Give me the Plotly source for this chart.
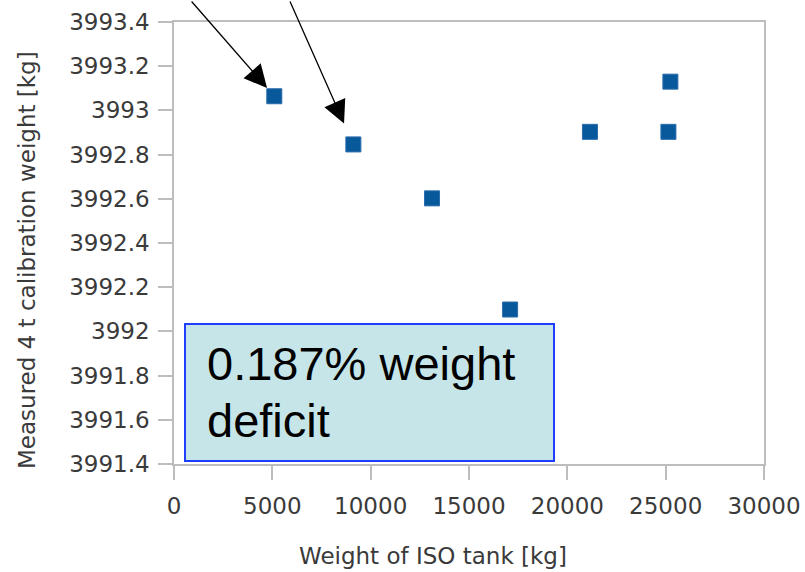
import plotly.graph_objects as go

# Data
tank_weight = [5100, 9120, 13120, 17090, 21150, 25140, 25240]
measured_weight = [3993.064, 3992.846, 3992.602, 3992.099, 3992.903, 3992.903, 3993.130]

x_tick_vals = [0, 5000, 10000, 15000, 20000, 25000, 30000]
x_tick_text = ["0", "5000", "10000", "15000", "20000", "25000", "30000"]
y_tick_vals = [3991.4, 3991.6, 3991.8, 3992.0, 3992.2, 3992.4, 3992.6, 3992.8, 3993.0, 3993.2, 3993.4]
y_tick_text = ["3991.4", "3991.6", "3991.8", "3992", "3992.2", "3992.4", "3992.6", "3992.8", "3993", "3993.2", "3993.4"]

x_title = "Weight of ISO tank [kg]"
y_title = "Measured 4 t calibration weight [kg]"
box_lines = ["0.187% weight", "deficit"]

W, H = 805, 572
ML, MR, MT, MB = 174, 41, 22, 108
PW, PH = W - ML - MR, H - MT - MB

def px_x(p):
    return (p - ML) / PW

def px_y(p):
    return (H - MB - p) / PH

axis_grey = "#bdbdbd"
tick_font = dict(family="DejaVu Sans", size=23, color="#3a3a3a")

fig = go.Figure()
fig.add_trace(go.Scatter(
    x=tank_weight, y=measured_weight, mode="markers",
    marker=dict(symbol="square", size=15, color="#07599c",
                line=dict(color="#2a6cab", width=1)),
    showlegend=False, cliponaxis=False,
))

fig.update_xaxes(range=[0, 30000], tickvals=x_tick_vals, ticktext=x_tick_text,
                 showgrid=False, zeroline=False, showline=True, mirror=True,
                 linecolor=axis_grey, linewidth=1.5, ticks="outside", ticklen=14,
                 tickcolor=axis_grey, tickwidth=1.5, tickfont=tick_font,
                 automargin=False, ticklabelstandoff=7)
fig.update_yaxes(range=[3991.4, 3993.4], tickvals=y_tick_vals, ticktext=y_tick_text,
                 showgrid=False, zeroline=False, showline=True, mirror=True,
                 linecolor=axis_grey, linewidth=1.5, ticks="outside", ticklen=14,
                 tickcolor=axis_grey, tickwidth=1.5, tickfont=tick_font,
                 automargin=False, ticklabelstandoff=4)

# Annotation box
fig.add_shape(type="rect", xref="paper", yref="paper",
              x0=px_x(185), x1=px_x(554), y0=px_y(461), y1=px_y(324),
              fillcolor="#c5e5e8", line=dict(color="#1f3dfc", width=2), layer="above")

annotations = []
annotations.append(dict(xref="paper", yref="paper", x=px_x(205), y=px_y(363.7),
                        xanchor="left", yanchor="middle", text=box_lines[0], showarrow=False,
                        font=dict(family="Liberation Sans", size=47, color="black")))
annotations.append(dict(xref="paper", yref="paper", x=px_x(205), y=px_y(420.4),
                        xanchor="left", yanchor="middle", text=box_lines[1], showarrow=False,
                        font=dict(family="Liberation Sans", size=47, color="black")))

# Arrows pointing at the first two points
arrow_specs = [(0, -84, -103, 11), (1, -64, -155, 23)]
for idx, ax, ay, so in arrow_specs:
    annotations.append(dict(x=tank_weight[idx], y=measured_weight[idx], xref="x", yref="y",
                            text="", showarrow=True, ax=ax, ay=ay, axref="pixel", ayref="pixel",
                            arrowhead=2, arrowsize=3.5, arrowwidth=1.3, arrowcolor="black",
                            standoff=so))

# Axis titles
annotations.append(dict(xref="paper", yref="paper", x=px_x(432.5), y=px_y(556),
                        xanchor="center", yanchor="middle", text=x_title, showarrow=False,
                        font=dict(family="DejaVu Sans", size=23, color="#3a3a3a")))
annotations.append(dict(xref="paper", yref="paper", x=px_x(27), y=px_y(260),
                        xanchor="center", yanchor="middle", text=y_title, showarrow=False,
                        textangle=-90,
                        font=dict(family="DejaVu Sans", size=23, color="#3a3a3a")))

fig.update_layout(width=W, height=H, margin=dict(l=ML, r=MR, t=MT, b=MB),
                  plot_bgcolor="white", paper_bgcolor="white",
                  annotations=annotations, showlegend=False)

fig.write_html("out.html")
